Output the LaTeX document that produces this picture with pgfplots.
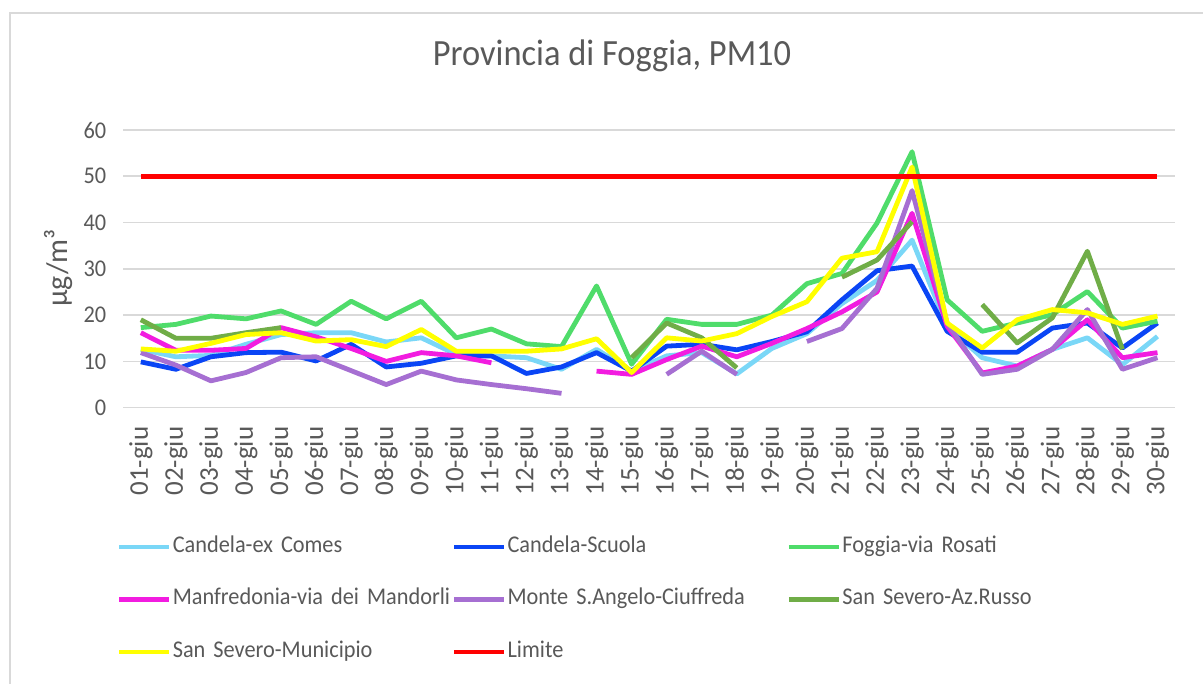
\documentclass[border=0pt]{standalone}
\usepackage{fontspec}
\setmainfont{Carlito}[FakeStretch=0.93]
\newfontfamily\rotfont{Carlito}
\usepackage{pgfplots}
\pgfplotsset{compat=1.18}

\definecolor{cexcomes}{HTML}{7AD7F7}
\definecolor{cscuola}{HTML}{0A45F5}
\definecolor{foggia}{HTML}{4FDC6A}
\definecolor{manfred}{HTML}{F21CE0}
\definecolor{monte}{HTML}{A66FD2}
\definecolor{azrusso}{HTML}{70AD47}
\definecolor{municip}{HTML}{FFFF00}
\definecolor{limite}{HTML}{FF0000}
\definecolor{txt}{HTML}{595959}
\definecolor{grd}{HTML}{D9D9D9}

\begin{document}
\begin{tikzpicture}
\useasboundingbox (0,0) rectangle (601.5pt,342pt);
\draw[grd, line width=1pt] (4.8pt,0) -- (4.8pt,335.3pt) -- (601.5pt,335.3pt);
\begin{axis}[
  at={(61.65pt,138.15pt)}, anchor=south west,
  scale only axis, width=525.85pt, height=138.85pt,
  xmin=0.5, xmax=30.5, ymin=0, ymax=60,
  axis x line*=bottom, axis y line*=left,
  x axis line style={draw=grd, line width=0.8pt, -},
  y axis line style={draw=none},
  ymajorgrids, grid style={grd, line width=0.8pt},
  ytick={0,10,...,60},
  ytick style={draw=none},
  yticklabel style={font=\fontsize{12}{14}\selectfont, text=txt, xshift=-5pt},
  /pgf/number format/assume math mode=true,
  xtick={1,...,30},
  xtick style={draw=none},
  xticklabels={01-giu,02-giu,03-giu,04-giu,05-giu,06-giu,07-giu,08-giu,09-giu,10-giu,
    11-giu,12-giu,13-giu,14-giu,15-giu,16-giu,17-giu,18-giu,19-giu,20-giu,
    21-giu,22-giu,23-giu,24-giu,25-giu,26-giu,27-giu,28-giu,29-giu,30-giu},
  xticklabel style={font=\rotfont\fontsize{13.5}{14}\selectfont, text=txt, rotate=90, anchor=east},
  xticklabel shift=6pt,
  extra x ticks={0.5,1.5,...,30.5},
  extra x tick style={grid=none, xticklabel={}, major tick length=5pt, tick align=outside,
    tick style={draw=grd, line width=0.8pt}},
  title={Provincia di Foggia, PM10},
  title style={at={(rel axis cs:0.4647,1.223)}, anchor=center,
    font=\fontsize{18.5}{20}\selectfont, text=txt},
  ylabel={µg/m³},
  every axis y label/.style={at={(rel axis cs:-0.062,0.503)}, rotate=90, anchor=center,
    font=\rotfont\fontsize{15}{16}\selectfont, text=txt},
  unbounded coords=jump,
  every axis plot/.append style={line width=2.4pt, line join=round},
  legend columns=3,
  legend cell align=left,
  legend image code/.code={\draw[#1, line width=2.4pt] (0pt,0pt) -- (25pt,0pt);},
  legend style={at={(rel axis cs:-0.006,-0.4638)}, anchor=north west, draw=none,
    fill=none, inner sep=0pt, outer sep=0pt, row sep=15.75pt,
    font=\fontsize{12}{14}\selectfont, text=txt,
    nodes={text width=139.5pt, align=left, inner sep=0pt, text height=8pt, text depth=2.5pt},
    /tikz/every odd column/.append style={column sep=0.5pt},
    /tikz/every even column/.append style={column sep=0pt}},
]
% Candela-ex Comes
\addplot[cexcomes] coordinates {
 (1,12.6)(2,11)(3,11.3)(4,13.7)(5,15.8)(6,16.2)(7,16.2)(8,14.2)(9,15.1)(10,11.5)
 (11,11.2)(12,10.8)(13,8.3)(14,12.6)(15,7.9)(16,11.2)(17,11.9)(18,7.3)(19,12.8)(20,16)
 (21,22.5)(22,27.5)(23,36.2)(24,17.6)(25,10.8)(26,9)(27,12.6)(28,15.1)(29,9.3)(30,15.4)};
% Candela-Scuola
\addplot[cscuola] coordinates {
 (1,9.9)(2,8.3)(3,11)(4,11.9)(5,12)(6,10.1)(7,13.7)(8,8.8)(9,9.6)(10,11.2)
 (11,11.2)(12,7.4)(13,8.8)(14,11.9)(15,7.9)(16,13.3)(17,13.7)(18,12.5)(19,14.3)(20,16.4)
 (21,23.3)(22,29.6)(23,30.6)(24,16.5)(25,12)(26,12)(27,17.2)(28,18.3)(29,12.9)(30,18.3)};
% Foggia-via Rosati
\addplot[foggia] coordinates {
 (1,17.3)(2,18)(3,19.8)(4,19.2)(5,20.9)(6,18)(7,23)(8,19.2)(9,23)(10,15.1)
 (11,17)(12,13.8)(13,13.2)(14,26.3)(15,9.4)(16,19.1)(17,18)(18,18)(19,20)(20,26.8)
 (21,29)(22,39.9)(23,55.3)(24,23.3)(25,16.5)(26,18.3)(27,20.1)(28,25.1)(29,17.2)(30,18.7)};
% Manfredonia-via dei Mandorli
\addplot[manfred] coordinates {
 (1,16.2)(2,12.4)(3,12.4)(4,12.8)(5,17.3)(6,15.3)(7,12.8)(8,10)(9,11.9)(10,11.2)
 (11,9.7)(12,nan)(13,nan)(14,7.9)(15,7.2)(16,10.4)(17,13.3)(18,11)(19,13.9)(20,17.1)
 (21,20.7)(22,25)(23,42)(24,17.6)(25,7.5)(26,9)(27,12.6)(28,19)(29,10.8)(30,11.9)};
% Monte S.Angelo-Ciuffreda
\addplot[monte] coordinates {
 (1,11.9)(2,9.2)(3,5.8)(4,7.6)(5,10.8)(6,11)(7,8)(8,5)(9,7.9)(10,6)
 (11,5)(12,4.1)(13,3.1)(14,nan)(15,nan)(16,7.2)(17,12.2)(18,7.2)(19,nan)(20,14.3)
 (21,17.1)(22,25.8)(23,46.9)(24,18.3)(25,7.2)(26,8.3)(27,12.6)(28,21.2)(29,8.3)(30,10.8)};
% San Severo-Az.Russo
\addplot[azrusso] coordinates {
 (1,19)(2,15)(3,15)(4,16.2)(5,17.3)(6,nan)(7,nan)(8,nan)(9,nan)(10,nan)
 (11,nan)(12,nan)(13,nan)(14,nan)(15,10.8)(16,18.3)(17,15.1)(18,8.6)(19,nan)(20,nan)
 (21,28.2)(22,31.9)(23,40.2)(24,nan)(25,22.3)(26,14)(27,19.4)(28,33.8)(29,12.6)(30,nan)};
% San Severo-Municipio
\addplot[municip] coordinates {
 (1,12.7)(2,12.2)(3,13.9)(4,15.8)(5,16.2)(6,14.4)(7,14.7)(8,13.2)(9,16.9)(10,12.2)
 (11,12.2)(12,12.2)(13,12.7)(14,14.9)(15,7.6)(16,15.1)(17,14.4)(18,16)(19,19.7)(20,22.9)
 (21,32.3)(22,33.7)(23,52)(24,18.3)(25,12.9)(26,19)(27,21.2)(28,20.5)(29,18)(30,19.8)};
% Limite
\addplot[limite] coordinates {(1,50)(30,50)};
\legend{Candela-ex Comes,Candela-Scuola,Foggia-via Rosati,
  Manfredonia-via dei Mandorli,Monte S.Angelo-Ciuffreda,San Severo-Az.Russo,
  San Severo-Municipio,Limite}
\end{axis}
\end{tikzpicture}
\end{document}
